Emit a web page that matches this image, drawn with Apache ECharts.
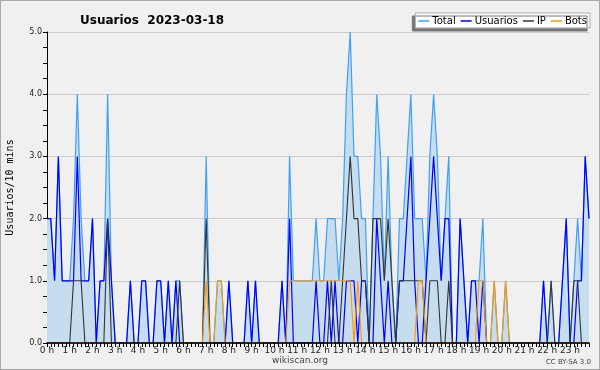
<!DOCTYPE html>
<html><head><meta charset="utf-8">
<script src="https://cdn.jsdelivr.net/npm/echarts@6/dist/echarts.min.js"></script>
<style>
html,body{margin:0;padding:0;background:#f0f0f0;}
#c{width:598px;height:368px;border:1px solid #aaaaaa;}
</style></head><body>
<div id="c"></div>
<script>
// 10-minute slots of 2023-03-18
const hours = Array.from({length:24},(_,h)=>h);
const categories = [];
hours.forEach(h=>{ for(let m=0;m<60;m+=10){ categories.push((h<10?'0':'')+h+':'+(m<10?'0':'')+m); } });
const tickLabels = hours.map(h=>h+' h');

const total = [
 2,2,1,3,1,1,1,2,4,2, 1,1,2,0,1,1,4,1,0,0,
 0,0,1,0,0,1,1,0,0,1, 1,0,1,0,1,1,0,0,0,0,
 0,0,3,0,0,1,1,0,1,0, 0,0,0,1,0,1,0,0,0,0,
 0,0,1,0,3,1,1,1,1,1, 1,2,1,1,2,2,2,1,2,4,
 5,3,3,2,2,0,2,4,3,1, 3,1,0,2,2,3,4,2,2,2,
 1,3,4,3,1,2,3,0,0,2, 1,0,1,1,1,2,0,0,1,0,
 0,1,0,0,0,0,0,0,0,0, 0,1,0,1,0,0,1,2,0,1,
 2,1,3,2];
const usuarios = [
 2,2,1,3,1,1,1,1,3,1, 1,1,2,0,1,1,2,1,0,0,
 0,0,1,0,0,1,1,0,0,1, 1,0,1,0,1,0,0,0,0,0,
 0,0,0,0,0,0,0,0,1,0, 0,0,0,1,0,1,0,0,0,0,
 0,0,1,0,2,0,0,0,0,0, 0,1,0,0,1,0,1,0,0,1,
 1,1,0,1,1,0,0,2,1,0, 1,0,0,1,1,2,3,1,0,0,
 1,2,3,2,1,2,2,0,0,2, 1,0,1,1,0,1,0,0,0,0,
 0,0,0,0,0,0,0,0,0,0, 0,1,0,0,0,0,1,2,0,0,
 1,1,3,2];
const ip = [
 0,0,0,0,0,0,0,1,1,1, 0,0,0,0,0,0,2,0,0,0,
 0,0,0,0,0,0,0,0,0,0, 0,0,0,0,0,1,0,0,0,0,
 0,0,2,0,0,0,0,0,0,0, 0,0,0,0,0,0,0,0,0,0,
 0,0,0,0,0,0,0,0,0,0, 0,0,0,0,0,1,0,0,1,2,
 3,2,2,1,1,0,2,2,2,1, 2,1,0,1,1,1,1,1,1,1,
 0,1,1,1,0,0,1,0,0,0, 0,0,0,0,0,0,0,0,0,0,
 0,0,0,0,0,0,0,0,0,0, 0,0,0,1,0,0,0,0,0,1,
 1,0,0,0];
const bots = [
 0,0,0,0,0,0,0,0,0,0, 0,0,0,0,0,0,0,0,0,0,
 0,0,0,0,0,0,0,0,0,0, 0,0,0,0,0,0,0,0,0,0,
 0,0,1,0,0,1,1,0,0,0, 0,0,0,0,0,0,0,0,0,0,
 0,0,0,0,1,1,1,1,1,1, 1,1,1,1,1,1,1,1,1,1,
 1,0,1,0,0,0,0,0,0,0, 0,0,0,0,0,0,0,0,1,1,
 0,0,0,0,0,0,0,0,0,0, 0,0,0,0,1,1,0,0,1,0,
 0,1,0,0,0,0,0,0,0,0, 0,0,0,0,0,0,0,0,0,0,
 0,0,0,0];
const yTicks = ['0.0','1.0','2.0','3.0','4.0','5.0'];

const chart = echarts.init(document.getElementById('c'), null, {renderer:'canvas'});
const F = 'DejaVu Sans';
chart.setOption({
  animation:false,
  backgroundColor:'#f0f0f0',
  title:{text:'Usuarios  2023-03-18', left:74, top:9,
    textStyle:{fontFamily:F, fontSize:12, fontWeight:'bold', color:'#000'}},
  legend:{
    right:9, top:12, itemGap:5, itemWidth:11, itemHeight:1.5,
    backgroundColor:'#ffffff', borderColor:'#aaa', borderWidth:1,
    padding:[3,3,2,3],
    shadowColor:'#777', shadowOffsetX:-3, shadowOffsetY:3, shadowBlur:0,
    textStyle:{fontFamily:F, fontSize:10, color:'#000', padding:[0,0,0,-2]},
    icon:'rect',
    data:['Total','Usuarios','IP','Bots']
  },
  grid:{left:46, right:10, top:31, bottom:26, show:false, outerBoundsMode:'none', containLabel:false},
  xAxis:{
    type:'category', boundaryGap:false, data:categories, z:10,
    axisLine:{lineStyle:{color:'#000', width:1.5}},
    axisTick:{show:true, interval:0, length:4, lineStyle:{color:'#000'}},
    axisLabel:{interval:(i)=>i%6===0, margin:3, fontFamily:F, fontSize:9, color:'#222',
      formatter:(v,i)=>tickLabels[Math.floor(i/6)]},
    splitLine:{show:false}
  },
  yAxis:{
    type:'value', min:0, max:5, interval:1,
    name:'Usuarios/10 mins', nameLocation:'middle', nameGap:32, nameRotate:90,
    nameTextStyle:{fontFamily:'DejaVu Sans Mono', fontSize:10, color:'#000'},
    axisLine:{show:true, lineStyle:{color:'#000', width:1}},
    axisTick:{show:true, length:4, lineStyle:{color:'#000'}},
    minorTick:{show:true, splitNumber:4, length:4, lineStyle:{color:'#000'}},
    axisLabel:{margin:5, fontFamily:F, fontSize:8, color:'#222',
      formatter:(v)=>yTicks[Math.round(v)]},
    splitLine:{show:true, lineStyle:{color:'#cccccc', width:1}}
  },
  series:[
    {name:'Total', type:'line', data:total, symbol:'none', z:1,
      lineStyle:{color:'#3fa0f5', width:1.2}, itemStyle:{color:'#3fa0f5'},
      areaStyle:{color:'#c6dcef', opacity:1}},
    {name:'Usuarios', type:'line', data:usuarios, symbol:'none', z:2,
      lineStyle:{color:'#0000ff', width:1.2}, itemStyle:{color:'#0000ff'}},
    {name:'IP', type:'line', data:ip, symbol:'none', z:3,
      lineStyle:{color:'#333333', width:1.1}, itemStyle:{color:'#333333'}},
    {name:'Bots', type:'line', data:bots, symbol:'none', z:4,
      lineStyle:{color:'#ff9900', width:1.1}, itemStyle:{color:'#ff9900'}}
  ],
  graphic:[
    {type:'text', left:'center', top:355, style:{text:'wikiscan.org', fontFamily:F, fontSize:9, fill:'#444'}},
    {type:'text', right:8, top:358, style:{text:'CC BY-SA 3.0', fontFamily:F, fontSize:7, fill:'#444'}}
  ]
});
</script></body></html>
